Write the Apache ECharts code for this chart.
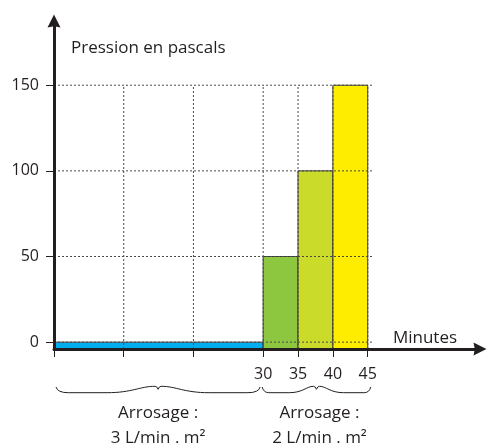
<!DOCTYPE html>
<html>
<head>
<meta charset="utf-8">
<script src="https://cdn.jsdelivr.net/npm/echarts@6/dist/echarts.min.js"></script>
<style>
html,body{margin:0;padding:0;background:#fff;}
#chart{width:488px;height:444px;}
</style>
</head>
<body>
<div id="chart"></div>
<script>
// ---- data ----
const minutesTicks = [0, 10, 20, 30, 35, 40, 45];
const minutesLabels = [30, 35, 40, 45];
const pressureTicks = [0, 50, 100, 150];
const segStart = [0, 30, 35, 40];
const segEnd = [30, 35, 40, 45];
const pressure = [0, 50, 100, 150];
const segColors = ['#00aeef', '#8dc63f', '#cbdb2a', '#ffed00'];
const groupStart = [0, 30];
const groupEnd = [30, 45];
const groupLine1 = ['Arrosage :', 'Arrosage :'];
const groupLine2 = ['3 L/min . m²', '2 L/min . m²'];
const xName = 'Minutes';
const yName = 'Pression en pascals';

// ---- layout / style ----
const FONT = 'Open Sans';
const INK = '#231f20';
const Y_MIN = -4, Y_MAX = 187.5;
const X_MIN = 0, X_MAX = 61.1;
const lastMinute = minutesTicks[minutesTicks.length - 1];
const topPressure = pressureTicks[pressureTicks.length - 1];
const ARROW = 'path://M50,0 L100,100 L50,90 L0,100 Z';

const chart = echarts.init(document.getElementById('chart'), null, {renderer: 'canvas'});

const gridLineData = [];
pressureTicks.forEach(v => gridLineData.push([X_MIN, v, lastMinute, v]));
minutesTicks.filter(m => m > X_MIN).forEach(m => gridLineData.push([m, Y_MIN, m, topPressure]));

const option = {
  animation: false,
  textStyle: {fontFamily: FONT},
  grid: {left: 54, right: 8, top: 21, bottom: 95, containLabel: false},
  xAxis: {
    type: 'value', min: X_MIN, max: X_MAX, z: 10,
    name: xName, nameLocation: 'end', nameGap: -55,
    nameTextStyle: {color: INK, fontSize: 17, fontFamily: FONT, align: 'center', verticalAlign: 'bottom', padding: [0, 0, 2, 0]},
    axisLine: {show: true, onZero: false, lineStyle: {color: INK, width: 3}, symbol: ['none', ARROW], symbolSize: [13, 19]},
    axisTick: {show: true, customValues: minutesTicks, length: 8, lineStyle: {color: INK, width: 1}},
    axisLabel: {show: true, customValues: minutesLabels, margin: 17, color: INK, fontSize: 16, fontFamily: FONT},
    splitLine: {show: false}
  },
  yAxis: {
    type: 'value', min: Y_MIN, max: Y_MAX, z: 10,
    name: yName, nameLocation: 'end', nameGap: -27,
    nameTextStyle: {color: INK, fontSize: 17, fontFamily: FONT, align: 'left', verticalAlign: 'middle', padding: [0, 0, 0, 17]},
    axisLine: {show: true, onZero: false, lineStyle: {color: INK, width: 3}, symbol: ['none', ARROW], symbolSize: [13, 20]},
    axisTick: {show: true, customValues: pressureTicks, length: 8, lineStyle: {color: INK, width: 1}},
    axisLabel: {show: true, customValues: pressureTicks, margin: 15, color: INK, fontSize: 16, fontFamily: FONT},
    splitLine: {show: false}
  },
  series: [
    {
      type: 'custom', coordinateSystem: 'cartesian2d', z: 2, clip: false,
      data: segStart.map((s, i) => [s, segEnd[i], pressure[i]]),
      encode: {x: [0, 1], y: 2},
      renderItem(params, api) {
        const s = api.value(0), e = api.value(1), v = api.value(2);
        const p0 = api.coord([s, Y_MIN]);
        const p1 = api.coord([e, v]);
        return {
          type: 'rect',
          shape: {x: p0[0], y: p1[1], width: p1[0] - p0[0], height: p0[1] - p1[1]},
          style: {fill: segColors[params.dataIndex], stroke: '#3a3a3a', lineWidth: 1}
        };
      }
    },
    {
      type: 'custom', coordinateSystem: 'cartesian2d', z: 3, clip: false, silent: true,
      data: gridLineData,
      encode: {x: [0, 2], y: [1, 3]},
      renderItem(params, api) {
        const a = api.coord([api.value(0), api.value(1)]);
        const b = api.coord([api.value(2), api.value(3)]);
        const horiz = api.value(1) === api.value(3);
        return {
          type: 'line',
          shape: {x1: a[0], y1: a[1], x2: b[0] + (horiz ? 5 : 0), y2: b[1]},
          style: {stroke: '#4a4a4a', lineWidth: 1, lineDash: [2, 2]}
        };
      }
    },
    {
      type: 'custom', coordinateSystem: 'cartesian2d', z: 3, clip: false, silent: true,
      data: groupStart.map((s, i) => [s, groupEnd[i]]),
      encode: {x: [0, 1]},
      renderItem(params, api) {
        const i = params.dataIndex;
        const base = api.coord([api.value(0), Y_MIN])[1];
        const a = api.coord([api.value(0), Y_MIN])[0] + (i === 0 ? 2 : -1);
        const b = api.coord([api.value(1), Y_MIN])[0] + (i === 0 ? -3 : 3);
        const m = (a + b) / 2, w = (b - a) / 2;
        const yEnd = base + 38, yLow = base + 43.7, yPeak = base + 37.3, yCusp = base + 40.3;
        const P = (x, y) => x.toFixed(2) + ' ' + y.toFixed(2);
        const path =
          'M' + P(a, yEnd) +
          ' Q' + P(a + 1.5, yLow) + ' ' + P(a + w * 0.12, yLow) +
          ' L' + P(a + w * 0.5, yLow) +
          ' C' + P(a + w * 0.75, yLow) + ' ' + P(m - w * 0.18, yPeak) + ' ' + P(m - 3, yPeak) +
          ' Q' + P(m - 1, yPeak) + ' ' + P(m, yCusp) +
          ' Q' + P(m + 1, yPeak) + ' ' + P(m + 3, yPeak) +
          ' C' + P(m + w * 0.18, yPeak) + ' ' + P(b - w * 0.75, yLow) + ' ' + P(b - w * 0.5, yLow) +
          ' L' + P(b - w * 0.12, yLow) +
          ' Q' + P(b - 1.5, yLow) + ' ' + P(b, yEnd);
        const tx = m + (i === 1 ? 3 : 0);
        const ts = {fill: INK, fontSize: 17, fontFamily: FONT, align: 'center', verticalAlign: 'middle'};
        return {
          type: 'group',
          children: [
            {type: 'path', shape: {pathData: path}, style: {fill: null, stroke: INK, lineWidth: 1}},
            {type: 'text', x: tx, y: base + 64.5, style: Object.assign({text: groupLine1[i]}, ts)},
            {type: 'text', x: tx, y: base + 89.5, style: Object.assign({text: groupLine2[i]}, ts)}
          ]
        };
      }
    }
  ]
};
chart.setOption(option);
</script>
</body>
</html>
